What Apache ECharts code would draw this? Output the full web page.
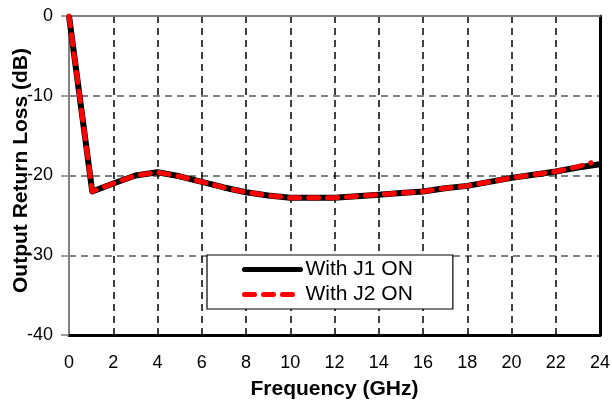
<!DOCTYPE html>
<html>
<head>
<meta charset="utf-8">
<script src="https://cdn.jsdelivr.net/npm/echarts@6/dist/echarts.min.js"></script>
<style>html,body{margin:0;padding:0;background:#fff;}#c{width:612px;height:401px;}</style>
</head>
<body>
<div id="c"></div>
<script>
var freqJ1 = [0, 1.05, 2, 3, 4, 5, 6, 7, 8, 9, 10, 11, 12, 13, 14, 15, 16, 17, 18, 19, 20, 21, 22, 23, 24];
var lossJ1 = [0, -22.0, -21.0, -20.0, -19.6, -20.1, -20.8, -21.5, -22.1, -22.5, -22.8, -22.8, -22.8, -22.6, -22.4, -22.2, -22.0, -21.6, -21.3, -20.8, -20.3, -19.9, -19.5, -19.0, -18.6];
var freqJ2 = [0, 1.05, 2, 3, 4, 5, 6, 7, 8, 9, 10, 11, 12, 13, 14, 15, 16, 17, 18, 19, 20, 21, 22, 23, 23.6];
var lossJ2 = [0, -22.0, -21.0, -20.0, -19.6, -20.1, -20.8, -21.5, -22.1, -22.5, -22.8, -22.8, -22.8, -22.6, -22.4, -22.2, -22.0, -21.6, -21.3, -20.8, -20.3, -19.9, -19.5, -18.9, -18.4];
var seriesNames = ['With J1 ON', 'With J2 ON'];
var xTicks = {min: 0, max: 24, interval: 2};
var yTicks = {min: -40, max: 0, interval: 10};

function pairs(xs, ys) { return xs.map(function (x, i) { return [x, ys[i]]; }); }

var chart = echarts.init(document.getElementById('c'), null, {renderer: 'canvas'});
var font = 'Liberation Sans, Arial, sans-serif';
chart.setOption({
  animation: false,
  backgroundColor: '#fff',
  grid: {left: 69, right: 12, top: 16, bottom: 66, containLabel: false, outerBoundsMode: 'none'},
  legend: {
    orient: 'vertical', left: 207, top: 255,
    padding: [4, 40, 4, 35], itemGap: 4, itemWidth: 56, itemHeight: 20,
    backgroundColor: '#fff', borderColor: '#000', borderWidth: 1.2,
    itemStyle: {color: 'transparent', borderWidth: 0, opacity: 0},
    lineStyle: {width: 5, cap: 'round'},
    textStyle: {fontFamily: font, fontSize: 21, color: '#000'},
    data: seriesNames
  },
  xAxis: [{
    type: 'value', min: xTicks.min, max: xTicks.max, interval: xTicks.interval,
    name: 'Frequency (GHz)', nameLocation: 'middle', nameGap: 44, nameMoveOverlap: false,
    nameTextStyle: {fontFamily: font, fontSize: 21, fontWeight: 'bold', color: '#000'},
    axisLine: {show: true, onZero: false, lineStyle: {color: '#000', width: 3}},
    axisTick: {show: false},
    axisLabel: {fontFamily: font, fontSize: 18, color: '#000', margin: 19},
    splitLine: {show: true, lineStyle: {color: '#000', width: 1.5, type: [7, 5]}}
  }, {
    type: 'value', position: 'top', min: xTicks.min, max: xTicks.max, interval: xTicks.interval,
    axisLine: {show: true, onZero: false, lineStyle: {color: '#808080', width: 2}},
    axisTick: {show: false}, axisLabel: {show: false}, splitLine: {show: false}
  }],
  yAxis: [{
    type: 'value', min: yTicks.min, max: yTicks.max, interval: yTicks.interval,
    name: 'Output Return Loss (dB)', nameLocation: 'middle', nameGap: 37, nameMoveOverlap: false,
    nameTextStyle: {fontFamily: font, fontSize: 21, fontWeight: 'bold', color: '#000', padding: [0, 0, 0, 10]},
    axisLine: {show: true, onZero: false, lineStyle: {color: '#808080', width: 2}},
    axisTick: {show: true, length: 8, lineStyle: {color: '#808080', width: 1.5}},
    axisLabel: {fontFamily: font, fontSize: 18, color: '#000', margin: 16},
    splitLine: {show: true, lineStyle: {color: '#808080', width: 2, type: [7, 5]}}
  }, {
    type: 'value', position: 'right', min: yTicks.min, max: yTicks.max, interval: yTicks.interval,
    axisLine: {show: true, onZero: false, lineStyle: {color: '#000', width: 3}},
    axisTick: {show: false}, axisLabel: {show: false}, splitLine: {show: false}
  }],
  series: [{
    name: seriesNames[0], type: 'line', symbol: 'none', z: 3,
    data: pairs(freqJ1, lossJ1),
    lineStyle: {color: '#000', width: 6, join: 'round'},
    itemStyle: {color: '#000'}
  }, {
    name: seriesNames[1], type: 'line', symbol: 'none', z: 4,
    data: pairs(freqJ2, lossJ2),
    lineStyle: {color: '#ff0000', width: 5, type: [10, 9], cap: 'round', join: 'round'},
    itemStyle: {color: '#ff0000'}
  }]
});
</script>
</body>
</html>
